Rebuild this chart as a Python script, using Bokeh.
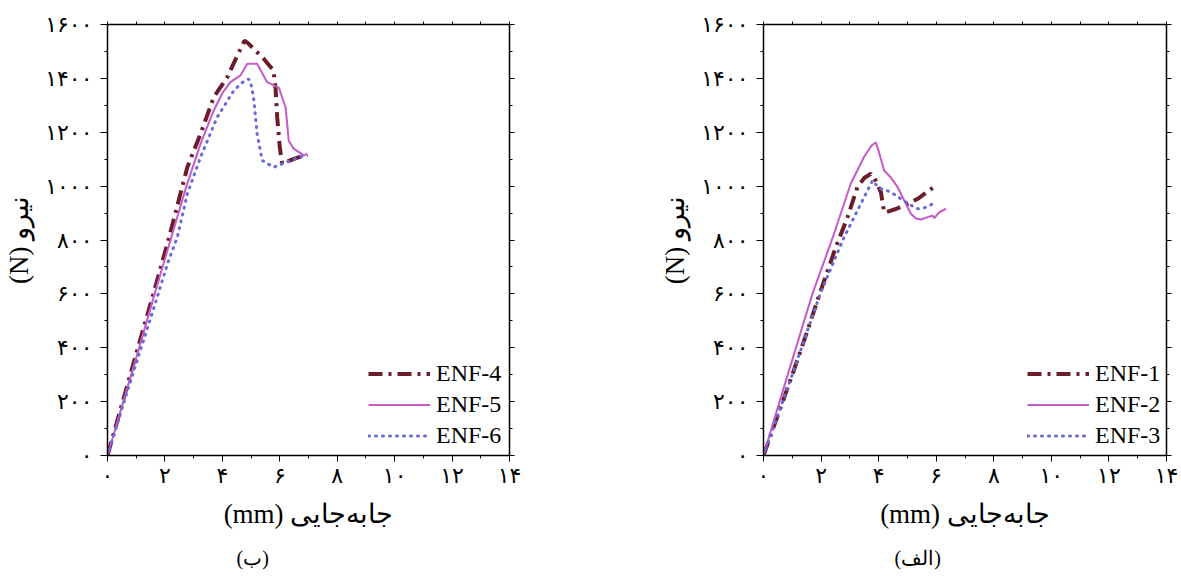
from bokeh.plotting import figure
from bokeh.models import (LinearAxis, Range1d, Legend, LegendItem, Title,
                          FixedTicker)
from bokeh.layouts import row
from bokeh.embed import file_html
from bokeh.resources import INLINE

# ---------------- data ----------------
enf4_x = [0, 0.53, 1.06, 1.6, 2.12, 2.78, 3.24, 3.70, 4.17, 4.5, 4.77, 4.9, 5.44, 5.78, 5.85, 5.91, 6.0, 6.08, 6.49, 6.96]
enf4_y = [0, 200, 400, 600, 800, 1070, 1194, 1330, 1404, 1480, 1540, 1530, 1473, 1429, 1367, 1256, 1144, 1083, 1101, 1117]

enf5_x = [0, 0.55, 1.1, 1.64, 2.19, 2.75, 3.24, 3.70, 4.0, 4.28, 4.63, 4.87, 5.21, 5.56, 5.97, 6.2, 6.26, 6.31, 6.49, 6.84, 6.96]
enf5_y = [0, 200, 400, 600, 798, 1000, 1157, 1281, 1345, 1386, 1411, 1454, 1454, 1386, 1365, 1293, 1230, 1169, 1138, 1114, 1120]

enf6_x = [0, 0.55, 1.1, 1.65, 2.1, 2.43, 2.78, 3.24, 3.82, 4.40, 4.7, 4.92, 5.02, 5.10, 5.21, 5.39, 5.79, 6.08, 6.5, 6.9]
enf6_y = [0, 190, 375, 560, 715, 810, 971, 1107, 1256, 1355, 1385, 1398, 1370, 1318, 1194, 1095, 1070, 1083, 1100, 1115]

enf1_x = [0, 0.5, 1.0, 1.5, 1.95, 2.5, 2.92, 3.26, 3.5, 3.73, 3.9, 4.08, 4.19, 4.37, 4.6, 4.89, 5.36, 5.91]
enf1_y = [0, 150, 300, 455, 600, 770, 885, 996, 1030, 1046, 1020, 977, 903, 907, 915, 928, 953, 996]

enf2_x = [0, 0.5, 1.0, 1.7, 2.45, 3.03, 3.5, 3.75, 3.9, 4.0, 4.19, 4.4, 4.66, 4.9, 5.12, 5.3, 5.47, 5.7, 5.88, 5.93, 6.11, 6.34]
enf2_y = [0, 180, 355, 600, 823, 1009, 1110, 1150, 1163, 1130, 1058, 1035, 996, 945, 897, 880, 876, 885, 891, 881, 903, 916]

enf3_x = [0, 0.5, 1.0, 1.5, 1.97, 2.5, 2.8, 3.15, 3.5, 3.79, 3.95, 4.08, 4.25, 4.43, 4.77, 5.1, 5.36, 5.6, 5.88]
enf3_y = [0, 150, 300, 455, 600, 735, 810, 885, 960, 1021, 1000, 990, 985, 977, 953, 930, 916, 920, 934]

x_ticks = [0, 2, 4, 6, 8, 10, 12, 14]
x_tick_labels = ["۰", "۲", "۴", "۶", "۸", "۱۰", "۱۲", "۱۴"]
y_ticks = [0, 200, 400, 600, 800, 1000, 1200, 1400, 1600]
y_tick_labels = ["۰", "۲۰۰", "۴۰۰", "۶۰۰", "۸۰۰", "۱۰۰۰", "۱۲۰۰", "۱۴۰۰", "۱۶۰۰"]

x_label = "(mm) جابه‌جایی"
y_label = "(N) نیرو"

left_names = ["ENF-4", "ENF-5", "ENF-6"]
right_names = ["ENF-1", "ENF-2", "ENF-3"]
left_caption = "(ب)"
right_caption = "(الف)"

C_MAROON = "#6b1d2c"
C_MAGENTA = "#c55ac8"
C_BLUE = "#6a6ad6"

TICK_FONT = "DejaVu Sans"
LABEL_FONT = "Liberation Serif"


def style_axes(p):
    p.xgrid.visible = False
    p.ygrid.visible = False
    p.outline_line_color = None
    p.background_fill_color = "white"
    p.border_fill_color = "white"

    xa = p.xaxis[0]
    xa.ticker = FixedTicker(ticks=x_ticks, minor_ticks=[1, 3, 5, 7, 9, 11, 13])
    xa.major_label_overrides = {t: l for t, l in zip(x_ticks, x_tick_labels)}
    xa.major_tick_in = 0
    xa.major_tick_out = 6
    xa.minor_tick_in = 0
    xa.minor_tick_out = 3
    xa.major_label_standoff = 1
    xa.major_label_text_font = TICK_FONT
    xa.major_label_text_font_size = "22px"
    xa.major_label_text_color = "black"
    xa.axis_line_width = 1.5
    xa.axis_label = x_label
    xa.axis_label_text_font = LABEL_FONT
    xa.axis_label_text_font_style = "normal"
    xa.axis_label_text_font_size = "27px"
    xa.axis_label_standoff = 8
    xa.axis_label_text_color = "black"

    ya = p.yaxis[0]
    ya.ticker = FixedTicker(ticks=y_ticks, minor_ticks=list(range(100, 1600, 200)))
    ya.major_label_overrides = {t: l for t, l in zip(y_ticks, y_tick_labels)}
    ya.major_tick_in = 0
    ya.major_tick_out = 7
    ya.minor_tick_in = 0
    ya.minor_tick_out = 3
    ya.major_label_standoff = 8
    ya.major_label_text_font = TICK_FONT
    ya.major_label_text_font_size = "22px"
    ya.major_label_text_color = "black"
    ya.axis_line_width = 1.5
    ya.axis_label = y_label
    ya.axis_label_text_font = LABEL_FONT
    ya.axis_label_text_font_style = "normal"
    ya.axis_label_text_font_size = "27px"
    ya.axis_label_standoff = 8
    ya.axis_label_text_color = "black"

    top = LinearAxis(ticker=FixedTicker(ticks=list(range(0, 15)), minor_ticks=[]),
                     major_tick_in=0, major_tick_out=3, minor_tick_out=0,
                     major_label_text_color=None, major_label_text_font_size="1px",
                     major_label_standoff=0, axis_line_width=1.5)
    right = LinearAxis(ticker=FixedTicker(ticks=y_ticks, minor_ticks=list(range(100, 1600, 200))),
                       major_tick_in=0, major_tick_out=5, minor_tick_in=0, minor_tick_out=3,
                       major_label_text_color=None, major_label_text_font_size="1px",
                       major_label_standoff=0, axis_line_width=1.5)
    p.add_layout(top, "above")
    p.add_layout(right, "right")


def make_panel(width, border_left, border_right, series, names, caption, leg_x, cap_offset):
    p = figure(width=width, height=581, x_range=Range1d(0, 14), y_range=Range1d(0, 1600),
               output_backend="svg", toolbar_location=None,
               min_border_left=border_left, min_border_right=border_right,
               min_border_top=24, min_border_bottom=126)
    style_axes(p)
    (ax, ay), (bx, by), (cx, cy) = series
    r1 = p.line(ax, ay, line_color=C_MAROON, line_width=4, line_dash="14 6 3 6")
    r2 = p.line(bx, by, line_color=C_MAGENTA, line_width=2)
    r3 = p.line(cx, cy, line_color=C_BLUE, line_width=3, line_dash="1 6", line_cap="round")
    legend = Legend(items=[LegendItem(label=names[0], renderers=[r1]),
                           LegendItem(label=names[1], renderers=[r2]),
                           LegendItem(label=names[2], renderers=[r3])],
                    location=(leg_x, 4), padding=0, margin=0, spacing=0,
                    glyph_width=62, glyph_height=31, label_height=31,
                    label_standoff=6, label_text_font=LABEL_FONT,
                    label_text_font_size="24px", label_text_color="black",
                    background_fill_alpha=0, border_line_color=None)
    p.add_layout(legend, "center")
    cap = Title(text=caption, align="left", offset=cap_offset, standoff=26,
                text_font=LABEL_FONT, text_font_size="20px", text_font_style="normal",
                text_color="black")
    p.add_layout(cap, "below")
    return p


left = make_panel(590, 107, 81,
                  [(enf4_x, enf4_y), (enf5_x, enf5_y), (enf6_x, enf6_y)],
                  left_names, left_caption, 261, 129)
right = make_panel(591, 173, 15,
                   [(enf1_x, enf1_y), (enf2_x, enf2_y), (enf3_x, enf3_y)],
                   right_names, right_caption, 264, 131)

layout = row(left, right)
open("out.html", "w").write(file_html(layout, INLINE))
